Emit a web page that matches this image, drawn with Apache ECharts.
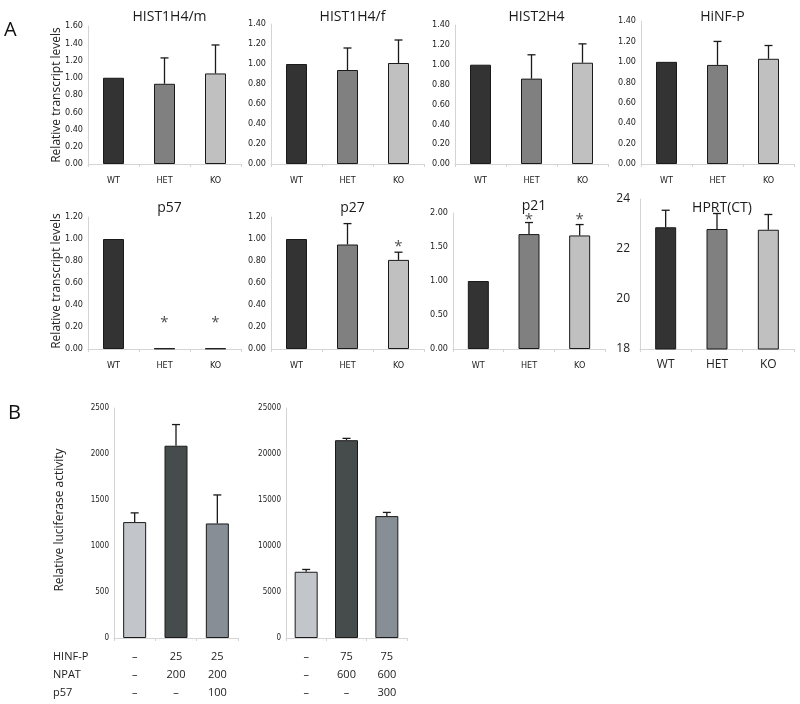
<!DOCTYPE html>
<html>
<head>
<meta charset="utf-8">
<script src="https://cdn.jsdelivr.net/npm/echarts@6/dist/echarts.min.js"></script>
<style>
html, body { margin: 0; padding: 0; background: #fff; }
#chart { width: 800px; height: 704px; }
</style>
</head>
<body>
<div id="chart"></div>
<script>
// panel A: relative transcript levels (WT / HET / KO)
const genotypes = ['WT', 'HET', 'KO']
const hist1h4mVals = [1.00, 0.93, 1.05]
const hist1h4mErr = [0, 0.30, 0.33]
const hist1h4fVals = [1.00, 0.94, 1.01]
const hist1h4fErr = [0, 0.22, 0.23]
const hist2h4Vals = [1.00, 0.86, 1.02]
const hist2h4Err = [0, 0.24, 0.19]
const hinfpVals = [1.00, 0.97, 1.03]
const hinfpErr = [0, 0.23, 0.13]
const p57Vals = [1.00, 0.005, 0.005]
const p57Err = [0, 0, 0]
const p57Stars = [null, 0.27, 0.27]
const p27Vals = [1.00, 0.95, 0.81]
const p27Err = [0, 0.19, 0.07]
const p27Stars = [null, null, 0.96]
const p21Vals = [1.00, 1.69, 1.67]
const p21Err = [0, 0.17, 0.16]
const p21Stars = [null, 1.94, 1.94]
const hprtVals = [22.87, 22.80, 22.77]
const hprtErr = [0.68, 0.62, 0.61]

// panel B: relative luciferase activity
const hinfpDose1 = ['–', '25', '25']
const npatDose1 = ['–', '200', '200']
const p57Dose1 = ['–', '–', '100']
const luc1Vals = [1260, 2090, 1245]
const luc1Err = [100, 230, 310]
const hinfpDose2 = ['–', '75', '75']
const npatDose2 = ['–', '600', '600']
const p57Dose2 = ['–', '–', '300']
const luc2Vals = [7200, 21500, 13250]
const luc2Err = [250, 200, 400]
const tableRows = ['HINF-P', 'NPAT', 'p57']

const colorsA = ['#333333', '#808080', '#c0c0c0']
const colorsB = ['#c2c6cb', '#454c4b', '#888e95']
const narrow = "'Liberation Sans Narrow', 'DejaVu Sans Condensed', sans-serif"
const sans = "'Open Sans', 'Noto Sans', sans-serif"

function doseCats (a, b, c) {
    return a.map((v, i) => v + '\n' + b[i] + '\n' + c[i])
}

const panels = [
    { title: 'HIST1H4/m', vals: hist1h4mVals, err: hist1h4mErr, box: [88, 26, 153, 138], max: 1.6, step: 0.2, titleY: 5 },
    { title: 'HIST1H4/f', vals: hist1h4fVals, err: hist1h4fErr, box: [271, 24, 153, 140], max: 1.4, step: 0.2, titleY: 5 },
    { title: 'HIST2H4', vals: hist2h4Vals, err: hist2h4Err, box: [455, 25, 153, 139], max: 1.4, step: 0.2, titleY: 5 },
    { title: 'HiNF-P', vals: hinfpVals, err: hinfpErr, box: [641, 21, 153, 143], max: 1.4, step: 0.2, titleY: 5 },
    { title: 'p57', vals: p57Vals, err: p57Err, stars: p57Stars, box: [88, 217, 153, 132], max: 1.2, step: 0.2, titleY: 196 },
    { title: 'p27', vals: p27Vals, err: p27Err, stars: p27Stars, box: [271, 217, 153, 132], max: 1.2, step: 0.2, titleY: 196 },
    { title: 'p21', vals: p21Vals, err: p21Err, stars: p21Stars, box: [453, 213, 152, 136], max: 2.0, step: 0.5, titleY: 194 },
    { title: 'HPRT(CT)', vals: hprtVals, err: hprtErr, box: [640, 199, 154, 150], min: 18, max: 24, step: 2, titleY: 196, big: true },
    { vals: luc1Vals, err: luc1Err, box: [114, 408, 124, 230], max: 2500, step: 500, cats: doseCats(hinfpDose1, npatDose1, p57Dose1), colors: colorsB, lucif: true },
    { vals: luc2Vals, err: luc2Err, box: [286, 408, 121, 230], max: 25000, step: 5000, cats: doseCats(hinfpDose2, npatDose2, p57Dose2), colors: colorsB, lucif: true }
]

function errRender (params, api) {
    let err = api.value(2)
    if (!err) return
    let base = api.coord([api.value(0), api.value(1)])
    let top = api.coord([api.value(0), api.value(1) + err])
    let st = { stroke: '#1a1a1a', lineWidth: 1.3 }
    return {
        type: 'group',
        children: [
            { type: 'line', shape: { x1: base[0], y1: base[1], x2: top[0], y2: top[1] }, style: st },
            { type: 'line', shape: { x1: top[0] - 4, y1: top[1], x2: top[0] + 4, y2: top[1] }, style: st }
        ]
    }
}

let grid = []
let xAxis = []
let yAxis = []
let series = []
let title = []

panels.forEach((p, i) => {
    let colors = p.colors || colorsA
    let small = p.big ? 12 : (p.lucif ? 8 : 9)
    grid.push({ left: p.box[0], top: p.box[1], width: p.box[2], height: p.box[3], containLabel: false, outerBoundsMode: 'none' })
    xAxis.push({
        type: 'category',
        gridIndex: i,
        data: p.cats || genotypes,
        axisLine: { lineStyle: { color: '#d4d4d4' } },
        axisTick: { show: true, length: 3, lineStyle: { color: '#d4d4d4' } },
        axisLabel: p.lucif
            ? { color: '#222', fontFamily: sans, fontSize: 11, lineHeight: 18, margin: 10 }
            : { color: '#222', fontFamily: p.big ? sans : narrow, fontSize: p.big ? 12 : 9, margin: p.big ? 10 : 12 }
    })
    yAxis.push({
        type: 'value',
        gridIndex: i,
        min: p.min || 0,
        max: p.max,
        interval: p.step,
        splitLine: { show: false },
        axisLine: { show: true, lineStyle: { color: '#d4d4d4' } },
        axisTick: { show: false },
        axisLabel: {
            color: '#222',
            fontFamily: p.big ? sans : narrow,
            fontSize: small,
            margin: p.big ? 10 : 5,
            formatter: v => (p.big || p.lucif) ? String(v) : v.toFixed(2)
        }
    })
    if (p.title) {
        title.push({
            text: p.title,
            left: p.box[0] + p.box[2] / 2,
            top: p.titleY,
            textAlign: 'center',
            textStyle: { fontFamily: sans, fontSize: 14, fontWeight: 'normal', color: '#1a1a1a' }
        })
    }
    series.push({
        type: 'bar',
        xAxisIndex: i,
        yAxisIndex: i,
        barWidth: p.lucif ? 23 : 21,
        data: p.vals.map((v, k) => ({
            value: v,
            itemStyle: { color: colors[k], borderColor: '#1a1a1a', borderWidth: 1 }
        })),
        silent: true,
        animation: false
    })
    series.push({
        type: 'custom',
        xAxisIndex: i,
        yAxisIndex: i,
        renderItem: errRender,
        encode: { x: 0, y: 1 },
        data: p.vals.map((v, k) => [k, v, p.err[k]]),
        z: 3,
        silent: true,
        animation: false
    })
    if (p.stars) {
        series.push({
            type: 'scatter',
            xAxisIndex: i,
            yAxisIndex: i,
            symbolSize: 2,
            itemStyle: { color: 'rgba(0,0,0,0)' },
            label: { show: true, position: 'inside', offset: [0, 3], formatter: '*', fontSize: 15, color: '#222', fontFamily: sans },
            data: p.stars.map((s, k) => s === null ? null : [k, s]).filter(d => d),
            z: 4,
            silent: true,
            animation: false
        })
    }
})

let graphic = [
    { type: 'text', left: 4, top: 20, style: { text: 'A', font: '20px ' + sans, fill: '#111' } },
    { type: 'text', left: 8, top: 403, style: { text: 'B', font: '20px ' + sans, fill: '#111' } },
    { type: 'text', x: 57, y: 95, rotation: Math.PI / 2, style: { text: 'Relative transcript levels', font: '12px ' + sans, fill: '#222', align: 'center', verticalAlign: 'middle' } },
    { type: 'text', x: 57, y: 281, rotation: Math.PI / 2, style: { text: 'Relative transcript levels', font: '12px ' + sans, fill: '#222', align: 'center', verticalAlign: 'middle' } },
    { type: 'text', x: 60, y: 520, rotation: Math.PI / 2, style: { text: 'Relative luciferase activity', font: '12px ' + sans, fill: '#222', align: 'center', verticalAlign: 'middle' } }
]
tableRows.forEach((r, k) => {
    graphic.push({ type: 'text', x: 53, y: 657 + k * 18, style: { text: r, font: '11px ' + sans, fill: '#222', verticalAlign: 'middle' } })
})

let myChart = echarts.init(document.getElementById('chart'))
myChart.setOption({
    animation: false,
    title: title,
    grid: grid,
    xAxis: xAxis,
    yAxis: yAxis,
    series: series,
    graphic: graphic
})
</script>
</body>
</html>
